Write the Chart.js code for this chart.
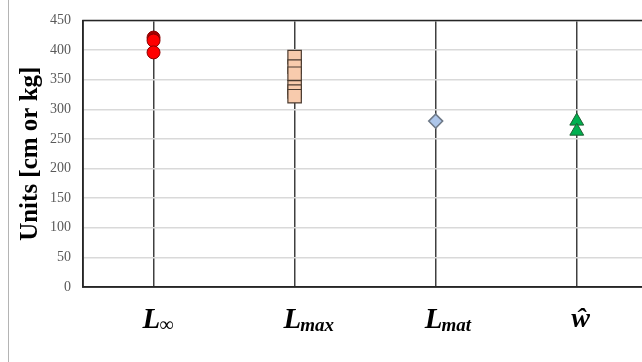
<!DOCTYPE html>
<html>
<head>
<meta charset="utf-8">
<script src="https://cdn.jsdelivr.net/npm/chart.js@4/dist/chart.umd.min.js"></script>
<style>
  html, body { margin: 0; padding: 0; background: #fff; }
  #wrap { position: relative; width: 642px; height: 362px; overflow: hidden; }
  #frame { position: absolute; left: 8px; top: 0; width: 1px; height: 362px; background: #b4b4b4; }
  #box { position: absolute; left: 0; top: 0; width: 658px; height: 362px; }
</style>
</head>
<body>
<div id="wrap">
  <div id="box"><canvas id="chart"></canvas></div>
  <div id="frame"></div>
</div>
<script>
// Length / weight parameters per category
const categories = ['L∞', 'Lmax', 'Lmat', 'ŵ'];
const linfValues = [421, 416, 396];
const lmaxValues = [388, 372, 360, 337, 330, 322];
const lmatValues = [280];
const whatValues = [280, 263];

const yMin = 0, yMax = 450, yStep = 50;

const serif = "'Liberation Serif', 'Times New Roman', serif";

function points(cat, values) {
    return values.map(v => ({ x: cat, y: v }));
}

// Plot frame: top + left + bottom lines (right edge runs off the page)
const framePlugin = {
    id: 'frameLines',
    afterDraw(chart) {
        const { ctx, chartArea: a } = chart;
        ctx.save();
        ctx.strokeStyle = '#262626';
        ctx.lineWidth = 1.5;
        ctx.beginPath();
        ctx.moveTo(a.right + 2, a.top);
        ctx.lineTo(a.left, a.top);
        ctx.lineTo(a.left, a.bottom);
        ctx.lineTo(a.right + 2, a.bottom);
        ctx.stroke();
        ctx.restore();
    }
};

// Category labels with subscripts
const xLabelPlugin = {
    id: 'xLabels',
    afterDraw(chart) {
        const ctx = chart.ctx;
        const xs = chart.scales.x;
        const base = chart.chartArea.bottom + 41;
        ctx.save();
        ctx.fillStyle = '#000';
        ctx.textBaseline = 'alphabetic';
        categories.forEach((c, i) => {
            const x = xs.getPixelForValue(i);
            if (c.length === 1) {
                ctx.font = `italic bold 28px ${serif}`;
                ctx.textAlign = 'center';
                ctx.fillText(c, x + 4, base - 1);
                return;
            }
            const main = c[0], sub = c.slice(1);
            ctx.textAlign = 'left';
            ctx.font = `italic bold 29px ${serif}`;
            const x0 = x - 11;
            ctx.fillText(main, x0, base);
            const w = ctx.measureText(main).width;
            ctx.font = sub === '∞' ? `20px ${serif}` : `italic bold 19px ${serif}`;
            ctx.fillText(sub, x0 + w - 1, base + 3);
        });
        ctx.restore();
    }
};

new Chart(document.getElementById('chart'), {
    type: 'line',
    data: {
        labels: categories,
        datasets: [{
            data: points(categories[0], linfValues),
            pointStyle: 'circle',
            pointRadius: 6.5,
            pointBackgroundColor: ['#a50000', '#ff0000', '#ff0000'],
            pointBorderColor: '#8b0000',
            pointBorderWidth: 1
        }, {
            data: points(categories[1], lmaxValues),
            pointStyle: 'rect',
            pointRadius: 9.5,
            pointBackgroundColor: '#f8cbad',
            pointBorderColor: '#4a3b30',
            pointBorderWidth: 1.2
        }, {
            data: points(categories[2], lmatValues),
            pointStyle: 'rectRot',
            pointRadius: 7,
            pointBackgroundColor: '#adc6ea',
            pointBorderColor: '#6f7a88',
            pointBorderWidth: 1.5
        }, {
            data: points(categories[3], whatValues),
            pointStyle: 'triangle',
            pointRadius: 8,
            pointBackgroundColor: '#00b050',
            pointBorderColor: '#1f5f33',
            pointBorderWidth: 1
        }].map(d => ({ ...d, showLine: false, pointHoverRadius: d.pointRadius }))
    },
    options: {
        responsive: true,
        maintainAspectRatio: false,
        animation: false,
        layout: { padding: { top: 20, right: 0, left: 0, bottom: 0 } },
        plugins: {
            legend: { display: false },
            tooltip: { enabled: false }
        },
        scales: {
            x: {
                type: 'category',
                offset: true,
                grid: { offset: false, color: '#404040', lineWidth: 1.5, drawTicks: false },
                border: { display: true, color: '#262626', width: 1.5 },
                ticks: { display: false },
                afterFit: s => { s.height = 75; }
            },
            y: {
                min: yMin,
                max: yMax,
                ticks: {
                    stepSize: yStep,
                    color: '#595959',
                    padding: 12,
                    font: { family: serif, size: 14 }
                },
                grid: { color: '#d9d9d9', lineWidth: 1.5, drawTicks: false },
                border: { display: true, color: '#262626', width: 1.5 },
                title: {
                    display: true,
                    text: 'Units [cm or kg]',
                    color: '#000',
                    font: { family: serif, size: 25, weight: 'bold' },
                    padding: { top: 16, bottom: 0 }
                },
                afterFit: s => { s.width = 83; }
            }
        }
    },
    plugins: [framePlugin, xLabelPlugin]
});
</script>
</body>
</html>
